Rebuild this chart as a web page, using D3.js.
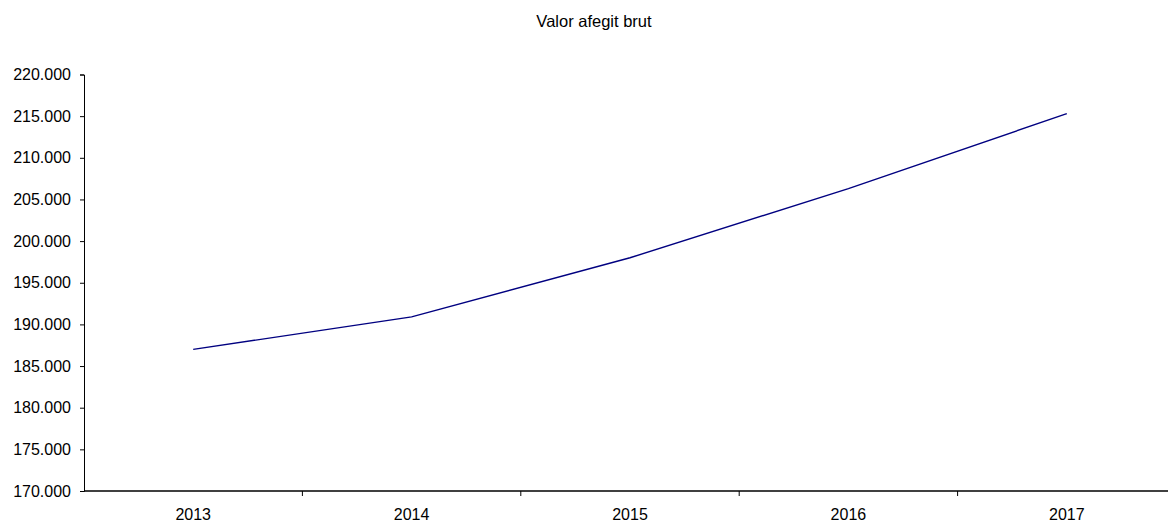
<!DOCTYPE html>
<html>
<head>
<meta charset="utf-8">
<script src="https://cdn.jsdelivr.net/npm/d3@7"></script>
<style>
  html, body { margin: 0; padding: 0; background: #fff; }
  svg { display: block; }
  text { font-family: "Liberation Sans", Arial, sans-serif; fill: #000; }
</style>
</head>
<body>
<svg id="chart" width="1168" height="522"></svg>
<script>
const title = "Valor afegit brut";
const years = ["2013", "2014", "2015", "2016", "2017"];
const values = [187000, 190900, 198000, 206300, 215300];
const yTicks = [170000, 175000, 180000, 185000, 190000, 195000, 200000, 205000, 210000, 215000, 220000];

const svg = d3.select("#chart");
const mLeft = 84, mRight = 1176, mTop = 74.5, mBottom = 491;

const x = d3.scaleBand().domain(years).range([mLeft, mRight]).padding(0);
const y = d3.scaleLinear().domain([170000, 220000]).range([mBottom, mTop]);

const fmtLabel = v => (v / 1000).toFixed(3);

svg.append("text")
  .attr("x", 594).attr("y", 27)
  .attr("text-anchor", "middle")
  .style("font-size", "16.5px")
  .text(title);

const yAxis = d3.axisLeft(y).tickValues(yTicks).tickSize(4).tickPadding(9).tickFormat(fmtLabel);
const gy = svg.append("g").attr("transform", `translate(${mLeft},0)`).call(yAxis);
gy.selectAll("text").style("font-size", "16px");
gy.select(".domain").attr("stroke", "#000").attr("stroke-width", 1);

const xAxis = d3.axisBottom(x).tickSize(0).tickPadding(18);
const gx = svg.append("g").attr("transform", `translate(0,${mBottom})`).call(xAxis);
gx.select(".domain").remove();
gx.selectAll("line").remove();
gx.selectAll("text").style("font-size", "16px");
gx.append("line").attr("x1", mLeft).attr("x2", mRight).attr("stroke", "#000").attr("stroke-width", 1.3);
gx.selectAll(".sep").data(years.slice(1)).enter().append("line")
  .attr("class", "sep")
  .attr("x1", d => x(d)).attr("x2", d => x(d))
  .attr("y1", 0).attr("y2", 5)
  .attr("stroke", "#000");

const line = d3.line().x((d, i) => x(years[i]) + x.bandwidth() / 2).y(d => y(d));
svg.append("path")
  .datum(values)
  .attr("fill", "none")
  .attr("stroke", "#000080")
  .attr("stroke-width", 1.4)
  .attr("d", line);
</script>
</body>
</html>
